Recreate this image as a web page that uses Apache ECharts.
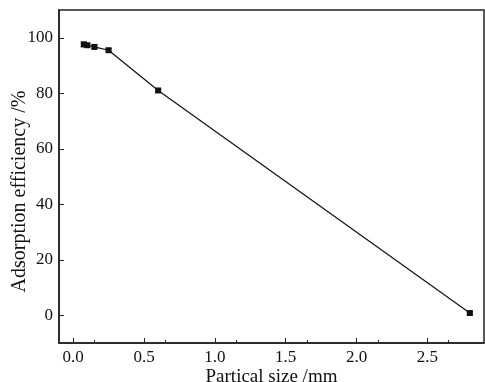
<!DOCTYPE html>
<html>
<head>
<meta charset="utf-8">
<script src="https://cdn.jsdelivr.net/npm/echarts@6/dist/echarts.min.js"></script>
<style>html,body{margin:0;padding:0;background:#fff}#c{width:485px;height:382px}</style>
</head>
<body>
<div id="c"></div>
<script>
var sizes = [0.075, 0.1, 0.15, 0.25, 0.6, 2.8];
var efficiency = [97.6, 97.3, 96.7, 95.5, 81.0, 0.8];
var errors = [0.8, 0.6, 0.6, 0.6, 0.7, 0.5];
var xTicks = [0.0, 0.5, 1.0, 1.5, 2.0, 2.5];
var yTicks = [0, 20, 40, 60, 80, 100];

var font = 'Liberation Serif';
var chart = echarts.init(document.getElementById('c'));
var pts = sizes.map(function (x, i) { return [x, efficiency[i]]; });
var errData = sizes.map(function (x, i) { return [x, efficiency[i] - errors[i], efficiency[i] + errors[i]]; });

chart.setOption({
  animation: false,
  grid: { left: 59, right: 1, top: 10, bottom: 39, show: true, borderColor: '#222', borderWidth: 1.5,
    containLabel: false, outerBoundsMode: 'none' },
  xAxis: {
    type: 'value', min: -0.1, max: 2.9, interval: 0.5,
    name: 'Partical size /mm', nameLocation: 'middle', nameGap: 25, nameMoveOverlap: false,
    nameTextStyle: { fontFamily: font, fontSize: 19, color: '#111', verticalAlign: 'top' },
    axisLine: { onZero: false, lineStyle: { color: '#222', width: 1.5 } },
    axisTick: { inside: true, length: 5, lineStyle: { color: '#222' }, customValues: xTicks },
    minorTick: { show: true, splitNumber: 2, length: 3, lineStyle: { color: '#222' } },
    axisLabel: { fontFamily: font, fontSize: 17, color: '#111', margin: 6, customValues: xTicks,
      formatter: function (v) { return v.toFixed(1); } },
    splitLine: { show: false }
  },
  yAxis: {
    type: 'value', min: -10, max: 110,
    name: 'Adsorption efficiency /%', nameLocation: 'middle', nameGap: 39, nameMoveOverlap: false,
    nameTextStyle: { fontFamily: font, fontSize: 20, color: '#111', verticalAlign: 'middle', padding: [0, 30, 0, 0] },
    axisLine: { onZero: false, lineStyle: { color: '#222', width: 1.5 } },
    axisTick: { inside: true, length: 5, lineStyle: { color: '#222' }, customValues: yTicks },
    minorTick: { show: false },
    axisLabel: { fontFamily: font, fontSize: 17, color: '#111', margin: 6, customValues: yTicks },
    splitLine: { show: false }
  },
  series: [
    {
      type: 'line', data: pts, symbol: 'rect', symbolSize: 6,
      lineStyle: { color: '#111', width: 1.2 }, itemStyle: { color: '#111' }, z: 3
    },
    {
      type: 'custom', data: errData, z: 4,
      renderItem: function (params, api) {
        var lo = api.coord([api.value(0), api.value(1)]);
        var hi = api.coord([api.value(0), api.value(2)]);
        var w = 3;
        var st = { stroke: '#111', lineWidth: 1 };
        return { type: 'group', children: [
          { type: 'line', shape: { x1: lo[0], y1: lo[1], x2: hi[0], y2: hi[1] }, style: st },
          { type: 'line', shape: { x1: lo[0] - w, y1: lo[1], x2: lo[0] + w, y2: lo[1] }, style: st },
          { type: 'line', shape: { x1: hi[0] - w, y1: hi[1], x2: hi[0] + w, y2: hi[1] }, style: st }
        ]};
      }
    }
  ]
});
</script>
</body>
</html>
